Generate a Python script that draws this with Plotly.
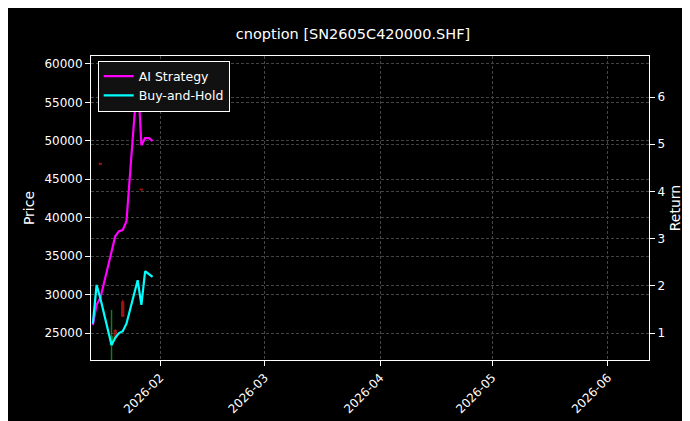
import plotly.graph_objects as go

dates = ["2026-01-14","2026-01-15","2026-01-16","2026-01-19","2026-01-20","2026-01-21","2026-01-22",
         "2026-01-23","2026-01-26","2026-01-27","2026-01-28","2026-01-29","2026-01-30"]
ai_ret = [1.17,1.6,1.74,2.72,3.05,3.16,3.18,3.37,6.5,4.98,5.13,5.13,5.07]
bh_ret = [1.2,2.02,1.74,0.75,0.9,1.0,1.04,1.2,2.12,1.6,2.31,2.25,2.19]
c_dates = ["2026-01-16","2026-01-19","2026-01-20","2026-01-22","2026-01-27"]
c_open  = [47050,23500,25300,29000,43700]
c_close = [47000,24500,24400,27200,43650]
c_high  = [47100,28000,25500,29300,43750]
c_low   = [46950,20000,24300,27100,43600]

fig = go.Figure()
fig.add_trace(go.Candlestick(x=c_dates, open=c_open, high=c_high, low=c_low, close=c_close,
    increasing=dict(line=dict(color="#1f9a1f", width=1.5), fillcolor="#1f9a1f"),
    decreasing=dict(line=dict(color="#c01818", width=1.5), fillcolor="#c01818"),
    whiskerwidth=0, showlegend=False, opacity=0.8))
fig.add_trace(go.Scatter(x=dates, y=ai_ret, yaxis="y2", name="AI Strategy",
    mode="lines", line=dict(color="#ff00ff", width=2.2)))
fig.add_trace(go.Scatter(x=dates, y=bh_ret, yaxis="y2", name="Buy-and-Hold",
    mode="lines", line=dict(color="#00ffff", width=2.2)))

grid = dict(showgrid=True, gridcolor="#444444", griddash="3px,2px", gridwidth=0.6,
            showline=True, linecolor="white", linewidth=1, ticks="outside",
            tickcolor="white", color="white", zeroline=False, automargin=False)
fig.update_layout(
    width=690, height=421, paper_bgcolor="black", plot_bgcolor="black",
    font=dict(family="DejaVu Sans", size=12, color="white"),
    title=dict(text="cnoption [SN2605C420000.SHF]", x=0.5, xanchor="center", y=0.95, font=dict(size=14.5, color="white")),
    margin=dict(l=83, r=49, t=48, b=69),
    xaxis=dict(**grid, type="date", range=["2026-01-13 12:00","2026-06-12"], tickangle=-45,
               tickformat="%Y-%m", dtick="M1", tick0="2026-02-01", mirror=True,
               rangeslider=dict(visible=False)),
    yaxis=dict(**grid, range=[21490, 61040], title=dict(text="Price", standoff=6), mirror=True,
               dtick=5000, tickformat="d"),
    yaxis2=dict(showgrid=True, gridcolor="#444444", griddash="3px,2px", gridwidth=0.6, automargin=False,
                overlaying="y", side="right", range=[0.43, 6.87], dtick=1, ticks="outside",
                tickcolor="white", color="white", zeroline=False, title=dict(text="Return", standoff=6)),
    legend=dict(x=0.012, y=0.985, xanchor="left", yanchor="top", bgcolor="#111111",
                bordercolor="white", borderwidth=1, font=dict(size=12.5)),
)
fig.write_html("out.html")
